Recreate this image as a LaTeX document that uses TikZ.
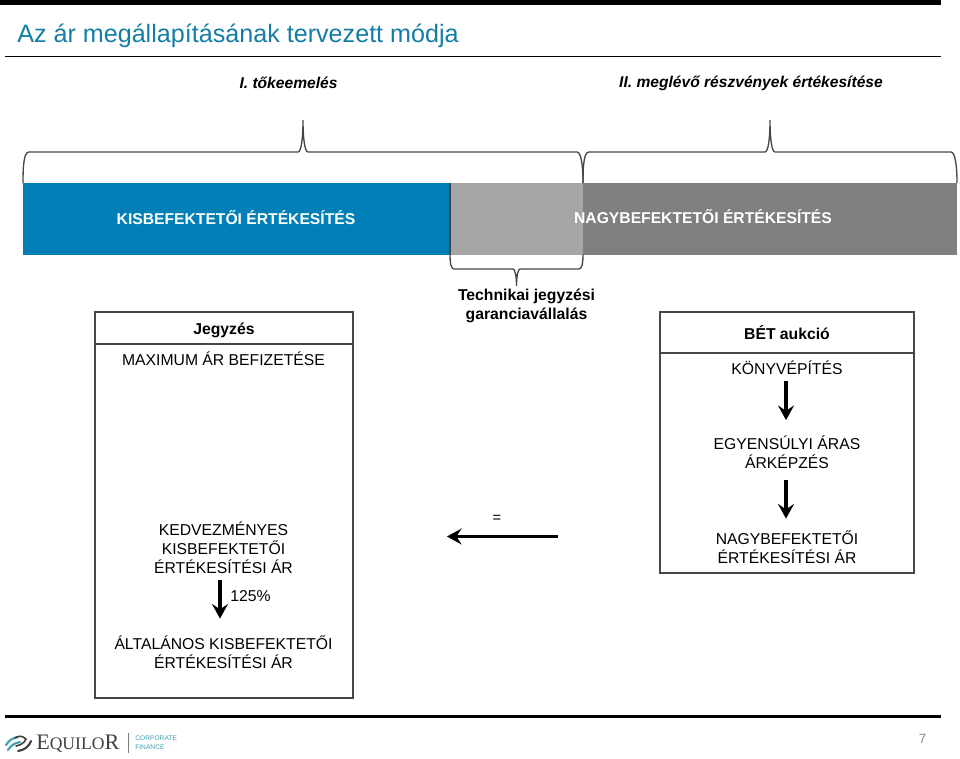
\documentclass[tikz,border=0pt]{standalone}
\usepackage{fontspec}
\setmainfont{Liberation Sans}
\newfontfamily\logofont{Liberation Serif}
\usetikzlibrary{arrows.meta}
\definecolor{eqblue}{RGB}{0,128,183}
\definecolor{titleblue}{RGB}{20,125,165}
\definecolor{lightbar}{RGB}{166,166,166}
\definecolor{darkbar}{RGB}{128,128,128}
\definecolor{linegray}{RGB}{70,70,70}
\definecolor{logoteal}{RGB}{60,160,175}
\tikzset{
  bodytext/.style={font=\fontsize{11.8}{14.3}\selectfont, align=center, inner sep=0pt},
  headtext/.style={font=\fontsize{11.8}{14.6}\selectfont\bfseries, align=center, inner sep=0pt},
  bartext/.style={font=\fontsize{11.75}{14}\selectfont\bfseries, text=white, inner sep=0pt},
  phasetext/.style={font=\fontsize{11.7}{14}\selectfont\bfseries\itshape, inner sep=0pt},
  framebox/.style={draw=linegray, line width=1pt, fill=white},
  bracket/.style={draw=linegray, line width=1pt},
  fatarrow/.style={line width=2.4pt, -{Stealth[length=11pt, width=12pt, inset=4pt]}}
}
\begin{document}
\begin{tikzpicture}[x=0.75pt, y=-0.75pt]
  \useasboundingbox (0,0) rectangle (960,758);
  % rules
  \fill[black] (0,0) rectangle (941,5);
  \fill[black] (5,55.5) rectangle (941,57);
  \fill[black] (5,715) rectangle (941,717.5);
  \node[font=\fontsize{18.85}{22}\selectfont, text=titleblue, anchor=west, inner sep=0pt] (title) at (17,35.5) {Az ár megállapításának tervezett módja};
  \node[phasetext] (phaseone) at (288.5,83) {I. tőkeemelés};
  \node[phasetext] (phasetwo) at (751,83) {II. meglévő részvények értékesítése};
  % bars
  \fill[eqblue] (23,183) rectangle (449,254.5);
  \fill[linegray] (449,183) rectangle (451,254.5);
  \fill[lightbar] (451,183) rectangle (583,254.5);
  \fill[darkbar] (583,183) rectangle (957,254.5);
  \node[bartext] (smallbar) at (236,218) {KISBEFEKTETŐI ÉRTÉKESÍTÉS};
  \node[bartext] (largebar) at (703,216.5) {NAGYBEFEKTETŐI ÉRTÉKESÍTÉS};
  % braces
  \draw[bracket] (23,183) .. controls (23,165) and (24,152) .. (29,152) -- (298,152) .. controls (301,152) and (303,140) .. (303,120) .. controls (303,140) and (305,152) .. (308,152) -- (577,152) .. controls (581,152) and (583,165) .. (583,183);
  \draw[bracket] (583,183) .. controls (583,165) and (584,152) .. (589,152) -- (765,152) .. controls (768,152) and (770,140) .. (770,120) .. controls (770,140) and (772,152) .. (775,152) -- (951,152) .. controls (955,152) and (957,165) .. (957,183);
  \draw[bracket] (450,254.5) .. controls (450,263) and (451,269) .. (454,269) -- (513,269) .. controls (515,269) and (516.5,276) .. (516.5,286) .. controls (516.5,276) and (518,269) .. (520,269) -- (579,269) .. controls (582,269) and (583,263) .. (583,254.5);
  % left box
  \draw[framebox] (95,312) rectangle (353,698);
  \draw[framebox] (95,312) rectangle (353,344);
  \node[headtext] (jegyzes) at (224,330) {Jegyzés};
  \node[bodytext] (maxar) at (223.5,359) {MAXIMUM ÁR BEFIZETÉSE};
  \node[bodytext] (kedvar) at (223.5,548) {KEDVEZMÉNYES\\KISBEFEKTETŐI\\ÉRTÉKESÍTÉSI ÁR};
  \node[bodytext] (pct) at (250.5,596) {125\%};
  \node[bodytext] (altar) at (223.5,652) {ÁLTALÁNOS KISBEFEKTETŐI\\ÉRTÉKESÍTÉSI ÁR};
  \draw[fatarrow, shorten <=4.5pt, shorten >=12.5pt] (kedvar.south -| 220,0) -- (altar.north -| 220,0);
  % middle
  \node[headtext] (technikai) at (526.5,306) {Technikai jegyzési\\garanciavállalás};
  \node[font=\fontsize{11}{13}\selectfont, inner sep=0pt] (equal) at (497,519) {=};
  \coordinate (arrowstart) at (558,536.5);
  \coordinate (arrowend) at (447,536.5);
  \draw[fatarrow] (arrowstart) -- (arrowend);
  % right box
  \draw[framebox] (660,312) rectangle (914,573);
  \draw[framebox] (660,312) rectangle (914,353);
  \node[headtext] (bet) at (787,332.5) {BÉT aukció};
  \node[bodytext] (konyv) at (787,368) {KÖNYVÉPÍTÉS};
  \node[bodytext] (egyens) at (787,452.5) {EGYENSÚLYI ÁRAS\\ÁRKÉPZÉS};
  \node[bodytext] (nagyar) at (787,547) {NAGYBEFEKTETŐI\\ÉRTÉKESÍTÉSI ÁR};
  \draw[fatarrow, shorten <=4.5pt, shorten >=11.75pt] (konyv.south -| 786,0) -- (egyens.north -| 786,0);
  \draw[fatarrow, shorten <=8.25pt, shorten >=8.75pt] (egyens.south -| 786,0) -- (nagyar.north -| 786,0);
  % footer
  \node[font=\logofont\fontsize{16.6}{18}\selectfont, text=black!75, anchor=west, inner sep=0pt] (logoname) at (36,744) {E\fontsize{13.2}{16}\selectfont QUILO\fontsize{16.6}{18}\selectfont R};
  \draw[linegray!70, line width=0.6pt] (128,733) -- (128,753);
  \node[font=\fontsize{5}{6.6}\selectfont, text=logoteal, align=left, anchor=west, inner sep=0pt] (logosub) at (135,743) {CORPORATE\\FINANCE};
  \draw[logoteal, line width=1.6pt, line cap=round] (6,745) .. controls (9,740) and (13,738) .. (18,737);
  \draw[logoteal, line width=1.6pt, line cap=round] (8,750) .. controls (11,745) and (15,743) .. (20,742);
  \draw[black!75, line width=1.6pt, line cap=round] (18,751) .. controls (24,750) and (29,747) .. (31,741);
  \draw[black!75, line width=1.2pt, line cap=round] (16,746) .. controls (21,745) and (24,743) .. (26,739) .. controls (22,735) and (18,736) .. (15,738);
  \node[font=\fontsize{10}{12}\selectfont, text=black!45, inner sep=0pt] (pagenum) at (922.5,739) {7};
\end{tikzpicture}
\end{document}
